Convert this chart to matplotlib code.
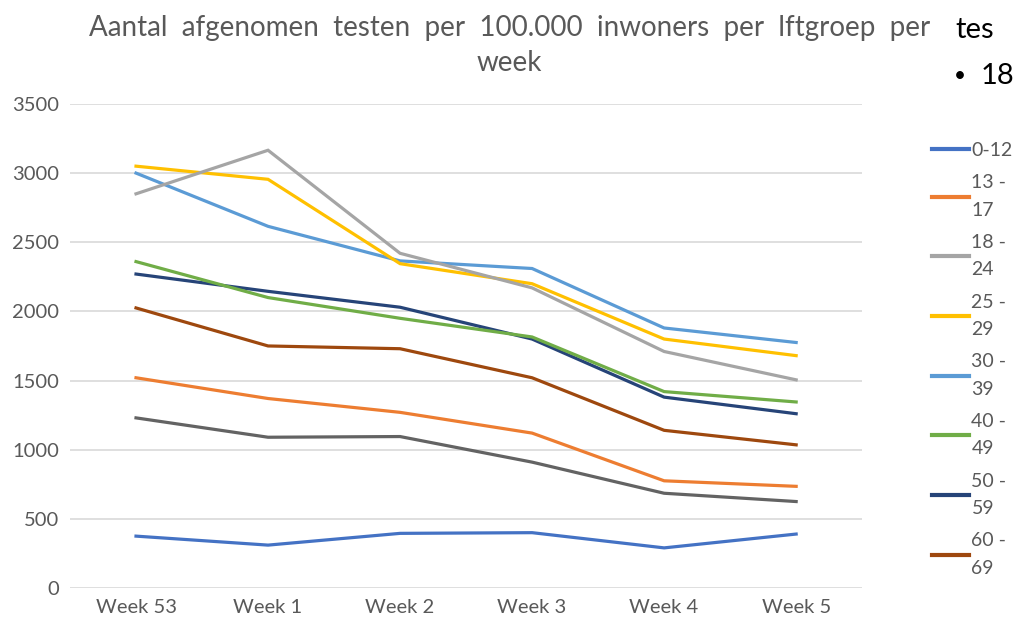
import matplotlib
matplotlib.use("Agg")
import matplotlib.pyplot as plt
from matplotlib.lines import Line2D

plt.rcParams['font.family'] = ['Lato', 'DejaVu Sans']

weeks = ['Week 53', 'Week 1', 'Week 2', 'Week 3', 'Week 4', 'Week 5']
groups = ['0-12', '13 -\n17', '18 -\n24', '25 -\n29', '30 -\n39',
          '40 -\n49', '50 -\n59', '60 -\n69', '70+']
colors = ['#4472C4', '#ED7D31', '#A5A5A5', '#FFC000', '#5B9BD5',
          '#70AD47', '#264478', '#9E480E', '#636363']

g0_12 = [375, 310, 395, 400, 290, 390]
g13_17 = [1520, 1370, 1270, 1120, 775, 735]
g18_24 = [2850, 3165, 2420, 2170, 1710, 1505]
g25_29 = [3050, 2955, 2345, 2200, 1800, 1680]
g30_39 = [3000, 2615, 2365, 2310, 1880, 1775]
g40_49 = [2360, 2100, 1950, 1815, 1420, 1345]
g50_59 = [2270, 2145, 2030, 1800, 1380, 1260]
g60_69 = [2025, 1750, 1730, 1520, 1140, 1035]
g70 = [1230, 1090, 1095, 910, 685, 625]
series = [g0_12, g13_17, g18_24, g25_29, g30_39, g40_49, g50_59, g60_69, g70]

grey = '#595959'

fig = plt.figure(figsize=(10.13, 6.19), dpi=100)
ax = fig.add_axes([0.0691, 0.0501, 0.782, 0.782])

x = range(len(weeks))
# draw oldest group first so that the order on top matches
for vals, c in zip(series[::-1], colors[::-1]):
    ax.plot(x, vals, color=c, lw=2.3, solid_joinstyle='miter')

ax.set_xlim(-0.5, 5.5)
ax.set_ylim(0, 3500)
ax.set_yticks(range(0, 3501, 500))
ax.set_xticks(list(x))
ax.set_xticklabels(weeks)
ax.grid(axis='y', color='#D9D9D9', lw=1.2)
ax.set_axisbelow(True)
for s in ax.spines.values():
    s.set_visible(False)
ax.tick_params(length=0, labelsize=14.5, labelcolor=grey, pad=8)

fig.text(0.503, 0.975, 'Aantal  afgenomen  testen  per  100.000  inwoners  per  lftgroep  per\nweek',
         ha='center', va='top', fontsize=20, color=grey, linespacing=1.4)

handles = [Line2D([], [], color=c, lw=3) for c in colors[:8]]
leg = fig.legend(handles, groups[:8], loc='upper left', bbox_to_anchor=(0.912, 0.783),
                 frameon=False, fontsize=14, handlelength=1.9, handletextpad=0.15,
                 labelspacing=0.78, borderaxespad=0)
for t in leg.get_texts():
    t.set_color(grey)
    t.set_linespacing(1.75)

# slide text cut off at the right edge
fig.text(0.943, 0.952, 'tes', fontsize=21, color='black', va='center')
fig.text(0.942, 0.878, '\u2022', fontsize=15, color='black', va='center')
fig.text(0.968, 0.878, '18', fontsize=21, color='black', va='center')

fig.savefig('out.png', dpi=100)
